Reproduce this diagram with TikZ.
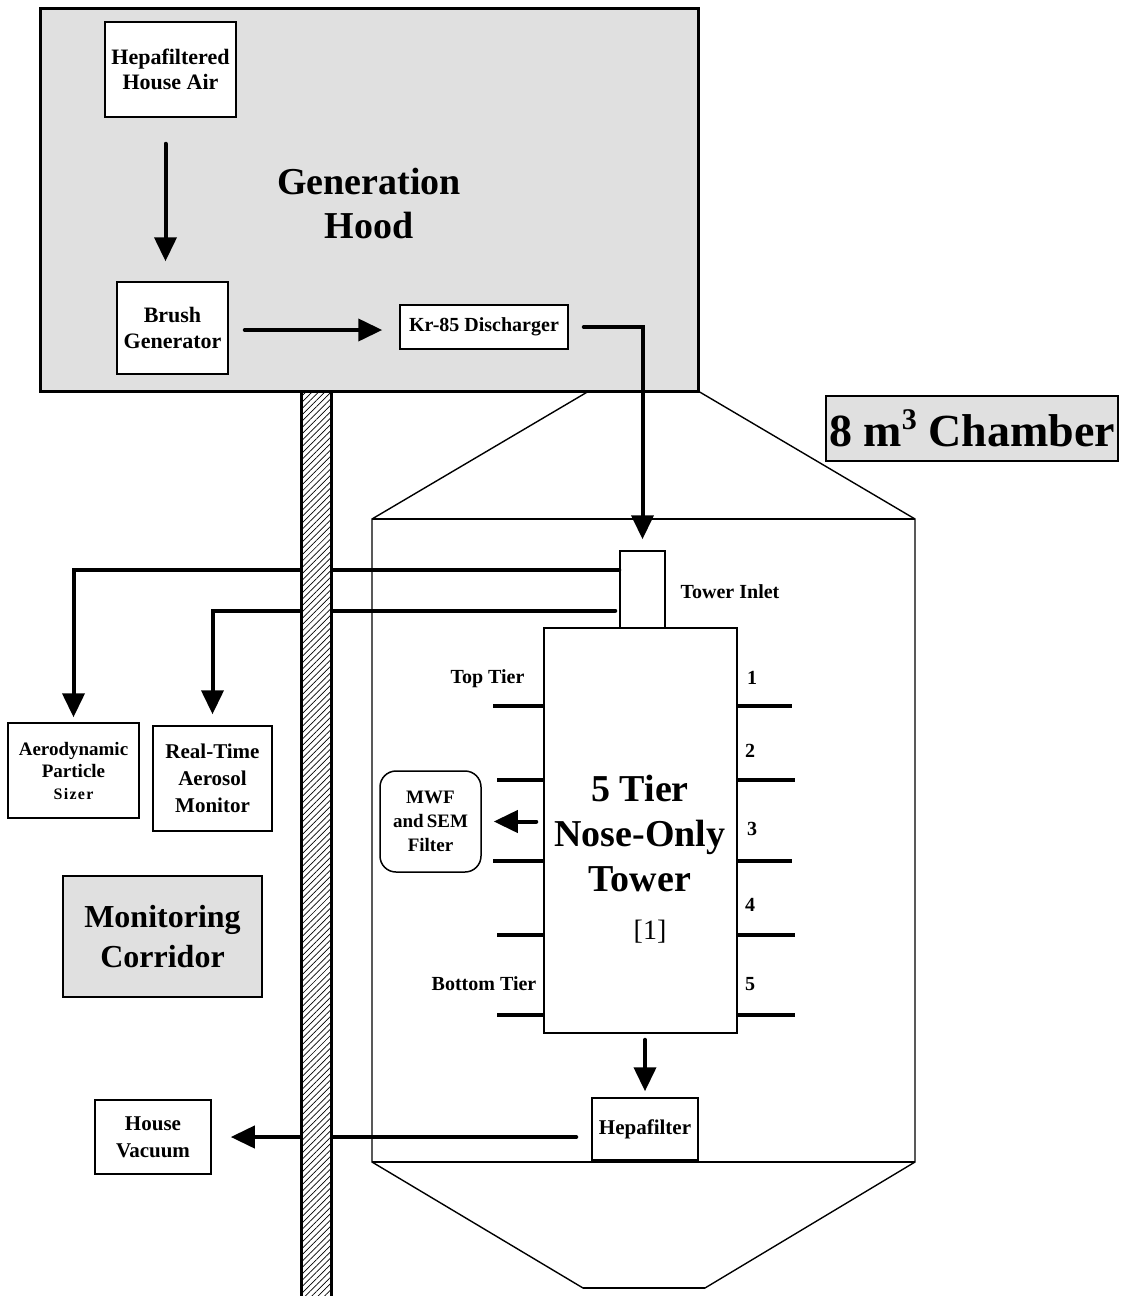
\documentclass[tikz,border=0pt]{standalone}
\usepackage{fontspec}
\setmainfont{Liberation Serif}
\usetikzlibrary{arrows.meta,patterns,patterns.meta,calc}
\definecolor{hoodgray}{RGB}{224,224,224}
\tikzset{
  box/.style={draw, line width=1.5pt, fill=white, align=center, inner sep=0pt,
    font=\bfseries\fontsize{21}{25}\selectfont},
  conn/.style={line width=4pt, line cap=round, -{Triangle[length=24pt,width=22pt]}},
  tierline/.style={line width=4pt},
  lbl/.style={font=\bfseries\fontsize{20}{24}\selectfont, inner sep=0pt},
  wallline/.style={line width=1.4pt},
  graybox/.style={draw, fill=hoodgray, inner sep=0pt, align=center},
}
\begin{document}
\begin{tikzpicture}[x=1pt,y=-1pt]
\useasboundingbox (0,0) rectangle (1124,1296);
% chamber outline
\draw[wallline, line join=miter] (589,391) -- (372,519) -- (372,1162) -- (583,1288) -- (705,1288) -- (915,1162) -- (915,519) -- (698,391);
\draw[wallline] (372,519) -- (915,519);
\draw[wallline] (372,1162) -- (915,1162);
\draw[line width=2.2pt] (583,1288) -- (705,1288);
% generation hood
\draw[line width=3pt, fill=hoodgray] (40,8) rectangle (698,391);
\node[font=\bfseries\fontsize{38}{44}\selectfont, align=center, inner sep=0pt] (hoodlbl) at (369,203) {Generation\\Hood};
\node[box, minimum width=131pt, minimum height=95pt, font=\bfseries\fontsize{22}{25}\selectfont] (hha) at (170.5,69.5) {Hepafiltered\\House Air};
\node[box, minimum width=111pt, minimum height=92pt, font=\bfseries\fontsize{22}{26}\selectfont] (brush) at (172.5,328) {Brush\\Generator};
\node[box, minimum width=168pt, minimum height=44pt, font=\bfseries\fontsize{20}{24}\selectfont] (kr) at (484,327) {Kr-85 Discharger};
% chamber label
\node[graybox, line width=2pt, minimum width=292pt, minimum height=65pt, font=\bfseries\fontsize{46}{50}\selectfont] (chlbl) at (972,428.5) {8 m\raisebox{17pt}{\fontsize{30}{30}\selectfont 3} Chamber};
% tower
\node[box, minimum width=45pt, minimum height=77pt] (inlet) at (642.5,589.5) {};
\foreach \y/\l/\r in {706/493/792, 780/497/795, 861/493/792, 935/497/795, 1015/497/795} {
  \draw[tierline] (544,\y) -- (\l,\y);
  \draw[tierline] (737,\y) -- (\r,\y);
}
\node[box, minimum width=193pt, minimum height=405pt] (tower) at (640.5,830.5) {};
\node[font=\bfseries\fontsize{38}{45}\selectfont, align=center, inner sep=0pt] (tlbl) at (640,833) {5 Tier\\Nose-Only\\Tower};
\node[font=\fontsize{28}{30}\selectfont, inner sep=0pt] (tref) at (650,932) {[1]};
\node[lbl] (inletlbl) at (730,592) {Tower Inlet};
\node[lbl] (toptier) at (487.5,679) {Top Tier};
\node[lbl] (bottier) at (484,984) {Bottom Tier};
\node[lbl] (t1) at (752,678) {1};
\node[lbl] (t2) at (750,751) {2};
\node[lbl] (t3) at (752,829) {3};
\node[lbl] (t4) at (750,905) {4};
\node[lbl] (t5) at (750,984) {5};
\node[box, rounded corners=16pt, minimum width=101pt, minimum height=101pt, font=\bfseries\fontsize{19}{24}\selectfont] (mwf) at (430.5,821.5) {MWF\\and\,SEM\\Filter};
\node[box, minimum width=106pt, minimum height=62pt] (hepa) at (645,1129) {Hepafilter};
% monitoring corridor
\node[box, minimum width=131pt, minimum height=95pt, font=\bfseries\fontsize{19}{22}\selectfont] (aps) at (73.5,770.5) {Aerodynamic\\Particle\\{\fontsize{16}{20}\selectfont\addfontfeature{LetterSpace=8}Sizer}};
\node[box, minimum width=119pt, minimum height=105pt, font=\bfseries\fontsize{21}{27}\selectfont] (rtam) at (212.5,778.5) {Real-Time\\Aerosol\\Monitor};
\node[graybox, line width=2.5pt, minimum width=199pt, minimum height=121pt, font=\bfseries\fontsize{32}{40}\selectfont] (mc) at (162.5,936.5) {Monitoring\\Corridor};
\node[box, minimum width=116pt, minimum height=74pt, font=\bfseries\fontsize{21}{27}\selectfont] (hv) at (153,1137) {House\\Vacuum};
% connectors
\draw[conn, shorten <=26pt, shorten >=20pt] ([xshift=-5pt]hha.south) -- ([xshift=-5pt]hha.south |- brush.north);
\draw[conn, shorten <=16pt, shorten >=17pt] ([yshift=-2pt]brush.east) -- ([yshift=-2pt]brush.east -| kr.west);
\draw[conn, shorten <=15pt, shorten >=11pt] (kr.east) -| (inlet.north);
\coordinate (in1) at ($(inlet.north west)!0.25!(inlet.south west)$);
\coordinate (in2) at ($(inlet.north west)!0.77!(inlet.south west)$);
\draw[conn, shorten >=5pt] (in1) -| (aps.north);
\draw[conn, shorten <=4pt, shorten >=11pt] (in2) -| (rtam.north);
\draw[conn, shorten <=7pt, shorten >=12pt] (tower.west |- mwf.east) -- (mwf.east);
\draw[conn, shorten <=6pt, shorten >=6pt] (tower.south -| hepa.north) -- (hepa.north);
\draw[conn, shorten <=15pt, shorten >=19pt] (hv.east -| hepa.west) -- (hv.east);
% wall
\draw[line width=3pt, preaction={fill=white}, pattern={Lines[angle=45,distance=4.5pt,line width=0.7pt]}] (301,391) rectangle (331,1300);
\end{tikzpicture}
\end{document}
